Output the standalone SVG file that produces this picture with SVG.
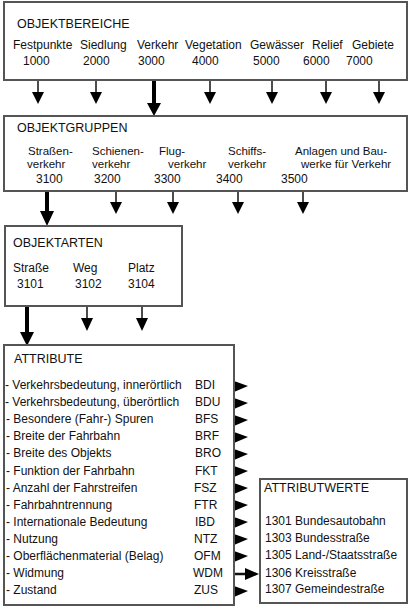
<svg xmlns="http://www.w3.org/2000/svg" width="410" height="608" viewBox="0 0 410 608">
<defs>
<style>
.box{fill:#fff;stroke:#555;stroke-width:2}
text{font-family:"Liberation Sans",Arial,sans-serif;font-size:12px;fill:#111}
.t{font-size:12.5px}
.s{font-size:11.5px}
.thin{stroke:#111;stroke-width:1.5;fill:none}
.thick{stroke:#000;stroke-width:4;fill:none}
.head{fill:#000}
</style>
</defs>
<rect width="410" height="608" fill="#fff"/>
<g id="connectors">
<line class="thin" x1="38" y1="80" x2="38" y2="93"/><polygon class="head" points="32,92 44,92 38,104"/>
<line class="thin" x1="96" y1="80" x2="96" y2="93"/><polygon class="head" points="90,92 102,92 96,104"/>
<line class="thick" x1="154" y1="80" x2="154" y2="104"/><polygon class="head" points="147,103 161,103 154,116"/>
<line class="thin" x1="210" y1="80" x2="210" y2="93"/><polygon class="head" points="204,92 216,92 210,104"/>
<line class="thin" x1="272" y1="80" x2="272" y2="93"/><polygon class="head" points="266,92 278,92 272,104"/>
<line class="thin" x1="326" y1="80" x2="326" y2="93"/><polygon class="head" points="320,92 332,92 326,104"/>
<line class="thin" x1="379" y1="80" x2="379" y2="93"/><polygon class="head" points="373,92 385,92 379,104"/>
<line class="thick" x1="47" y1="191" x2="47" y2="212"/><polygon class="head" points="40,211 54,211 47,226"/>
<line class="thin" x1="116" y1="191" x2="116" y2="203"/><polygon class="head" points="110,202 122,202 116,214"/>
<line class="thin" x1="173" y1="191" x2="173" y2="203"/><polygon class="head" points="167,202 179,202 173,214"/>
<line class="thin" x1="238" y1="191" x2="238" y2="203"/><polygon class="head" points="232,202 244,202 238,214"/>
<line class="thin" x1="303" y1="191" x2="303" y2="203"/><polygon class="head" points="297,202 309,202 303,214"/>
<line class="thick" x1="27" y1="306" x2="27" y2="333"/><polygon class="head" points="20,332 34,332 27,346"/>
<line class="thin" x1="87" y1="306" x2="87" y2="319"/><polygon class="head" points="81,318 93,318 87,331"/>
<line class="thin" x1="142" y1="306" x2="142" y2="319"/><polygon class="head" points="136,318 148,318 142,331"/>
<polygon class="head" points="234,381 248,386 234,392"/>
<polygon class="head" points="234,398 248,403 234,409"/>
<polygon class="head" points="234,415 248,420 234,426"/>
<polygon class="head" points="234,432 248,437 234,443"/>
<polygon class="head" points="234,449 248,454 234,460"/>
<polygon class="head" points="234,466 248,471 234,477"/>
<polygon class="head" points="234,483 248,488 234,494"/>
<polygon class="head" points="234,500 248,505 234,511"/>
<polygon class="head" points="234,517 248,522 234,528"/>
<polygon class="head" points="234,534 248,539 234,545"/>
<polygon class="head" points="234,551 248,556 234,562"/>
<line class="thin" x1="234" y1="574" x2="247" y2="574" style="stroke-width:2.5"/><polygon class="head" points="245,568 259,574 245,580"/>
<polygon class="head" points="234,586 248,591 234,597"/>
</g>
<g id="objektbereiche">
<rect class="box" x="4" y="2" width="403" height="78"/>
<text class="t" x="17" y="28">OBJEKTBEREICHE</text>
<text x="13" y="49">Festpunkte</text><text x="23" y="65">1000</text>
<text x="80" y="49">Siedlung</text><text x="83" y="65">2000</text>
<text x="137" y="49">Verkehr</text><text x="138" y="65">3000</text>
<text x="185" y="49">Vegetation</text><text x="192" y="65">4000</text>
<text x="250" y="49">Gewässer</text><text x="253" y="65">5000</text>
<text x="312" y="49">Relief</text><text x="303" y="65">6000</text>
<text x="352" y="49">Gebiete</text><text x="346" y="65">7000</text>
</g>
<g id="objektgruppen">
<rect class="box" x="4" y="116" width="403" height="75"/>
<text class="t" x="17" y="132">OBJEKTGRUPPEN</text>
<text class="s" x="28" y="155">Straßen-</text><text class="s" x="27" y="168">verkehr</text><text x="36" y="183">3100</text>
<text class="s" x="92" y="155">Schienen-</text><text class="s" x="92" y="168">verkehr</text><text x="94" y="183">3200</text>
<text class="s" x="159" y="155">Flug-</text><text class="s" x="168" y="168">verkehr</text><text x="154" y="183">3300</text>
<text class="s" x="228" y="155">Schiffs-</text><text class="s" x="228" y="168">verkehr</text><text x="216" y="183">3400</text>
<text class="s" x="295" y="155">Anlagen und Bau-</text><text class="s" x="301" y="168">werke für Verkehr</text><text x="281" y="183">3500</text>
</g>
<g id="objektarten">
<rect class="box" x="5" y="226" width="177" height="80"/>
<text class="t" x="13" y="247">OBJEKTARTEN</text>
<text x="13" y="272">Straße</text><text x="17" y="288">3101</text>
<text x="73" y="272">Weg</text><text x="75" y="288">3102</text>
<text x="128" y="272">Platz</text><text x="128" y="288">3104</text>
</g>
<g id="attribute">
<rect class="box" x="4" y="345" width="230" height="260"/>
<text class="t" x="14" y="363">ATTRIBUTE</text>
<text x="5" y="389">- Verkehrsbedeutung, innerörtlich</text><text x="195" y="389">BDI</text>
<text x="5" y="406">- Verkehrsbedeutung, überörtlich</text><text x="195" y="406">BDU</text>
<text x="6" y="423">- Besondere (Fahr-) Spuren</text><text x="195" y="423">BFS</text>
<text x="6" y="440">- Breite der Fahrbahn</text><text x="195" y="440">BRF</text>
<text x="6" y="457">- Breite des Objekts</text><text x="195" y="457">BRO</text>
<text x="6" y="475">- Funktion der Fahrbahn</text><text x="195" y="475">FKT</text>
<text x="6" y="492">- Anzahl der Fahrstreifen</text><text x="194" y="492">FSZ</text>
<text x="6" y="509">- Fahrbahntrennung</text><text x="194" y="509">FTR</text>
<text x="6" y="526">- Internationale Bedeutung</text><text x="195" y="526">IBD</text>
<text x="6" y="543">- Nutzung</text><text x="194" y="543">NTZ</text>
<text x="6" y="560">- Oberflächenmaterial (Belag)</text><text x="194" y="560">OFM</text>
<text x="6" y="577">- Widmung</text><text x="193" y="577">WDM</text>
<text x="6" y="594">- Zustand</text><text x="194" y="594">ZUS</text>
</g>
<g id="attributwerte">
<rect class="box" x="260" y="479" width="147" height="124"/>
<text class="t" x="264" y="492">ATTRIBUTWERTE</text>
<text x="265" y="525">1301 Bundesautobahn</text>
<text x="265" y="542">1303 Bundesstraße</text>
<text x="265" y="559">1305 Land-/Staatsstraße</text>
<text x="265" y="577">1306 Kreisstraße</text>
<text x="265" y="593">1307 Gemeindestraße</text>
</g>
</svg>
